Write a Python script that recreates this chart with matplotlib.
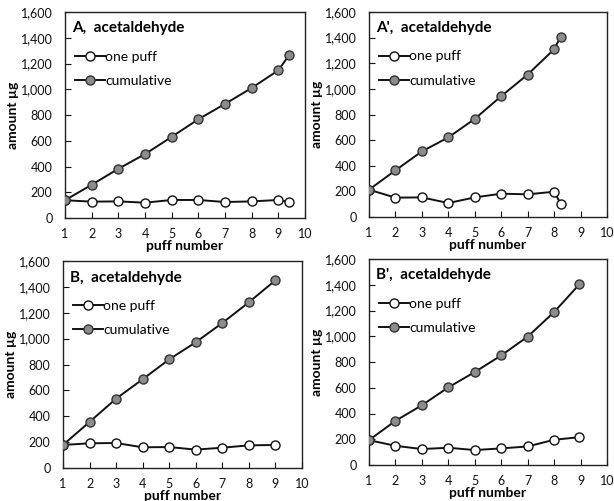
import matplotlib

matplotlib.use("Agg")
import matplotlib.pyplot as plt  # noqa: E402
from matplotlib.ticker import FuncFormatter  # noqa: E402

plt.rcParams["font.family"] = ["Lato", "DejaVu Sans"]

# panel A
a_x = [1, 2, 3, 4, 5, 6, 7, 8, 9, 9.4]
a_one = [138, 127, 129, 119, 140, 140, 124, 129, 140, 124]
a_cum = [138, 258, 382, 496, 630, 767, 886, 1010, 1147, 1264]

# panel A'
ap_x = [1, 2, 3, 4, 5, 6, 7, 8, 8.25]
ap_one = [213, 151, 153, 109, 153, 182, 177, 197, 104]
ap_cum = [213, 364, 512, 621, 766, 943, 1112, 1309, 1408]

# panel B
b_x = [1, 2, 3, 4, 5, 6, 7, 8, 9]
b_one = [178, 191, 193, 160, 162, 142, 157, 175, 178]
b_cum = [178, 356, 536, 686, 840, 972, 1121, 1281, 1451]

# panel B'
bp_x = [1, 2, 3, 4, 5, 6, 7, 8, 8.95]
bp_one = [193, 149, 124, 134, 116, 129, 144, 196, 216]
bp_cum = [193, 343, 464, 603, 722, 851, 997, 1188, 1402]

panels = [
    ("A,  acetaldehyde", a_x, a_one, a_cum, (65, 305, 12, 218)),
    ("A',  acetaldehyde", ap_x, ap_one, ap_cum, (369, 607, 12, 217)),
    ("B,  acetaldehyde", b_x, b_one, b_cum, (63, 302, 261, 468)),
    ("B',  acetaldehyde", bp_x, bp_one, bp_cum, (369, 607, 259, 465)),
]

W, H = 614, 501
fig = plt.figure(figsize=(W / 100, H / 100), dpi=100)

for title, x, one, cum, (l, r, t, b) in panels:
    ax = fig.add_axes([l / W, 1 - b / H, (r - l) / W, (b - t) / H])
    ax.plot(x, one, "-o", color="#111", lw=1.4, ms=6.5, mfc="white",
            mec="#111", mew=1.0, label="one puff", zorder=3)
    ax.plot(x, cum, "-o", color="#111", lw=1.4, ms=6.5, mfc="#8c8c8c",
            mec="#333", mew=1.0, label="cumulative", zorder=4)
    ax.set_xlim(1, 10)
    ax.set_ylim(0, 1600)
    ax.set_xticks(range(1, 11))
    ax.set_yticks(range(0, 1601, 200))
    ax.yaxis.set_major_formatter(FuncFormatter(lambda v, p: f"{int(v):,}"))
    ax.tick_params(direction="in", length=4, width=0.8, labelsize=9,
                   colors="#111")
    ax.tick_params(axis="y", pad=9)
    ax.tick_params(axis="x", pad=7)
    for s in ax.spines.values():
        s.set_linewidth(1.0)
        s.set_color("#222")
    ax.set_xlabel("puff number", fontsize=10, fontweight="bold", labelpad=0.5)
    ax.set_ylabel("amount µg", fontsize=10, fontweight="bold", labelpad=1)
    ax.text(0.03, 0.92, title, transform=ax.transAxes, fontsize=11,
            fontweight="bold", va="center", ha="left")
    ax.legend(loc="upper left", bbox_to_anchor=(0.0, 0.86), frameon=False,
              fontsize=10, handlelength=2.2, handletextpad=0.0,
              labelspacing=0.9, borderaxespad=0.3)

fig.savefig("out.png", dpi=100)
